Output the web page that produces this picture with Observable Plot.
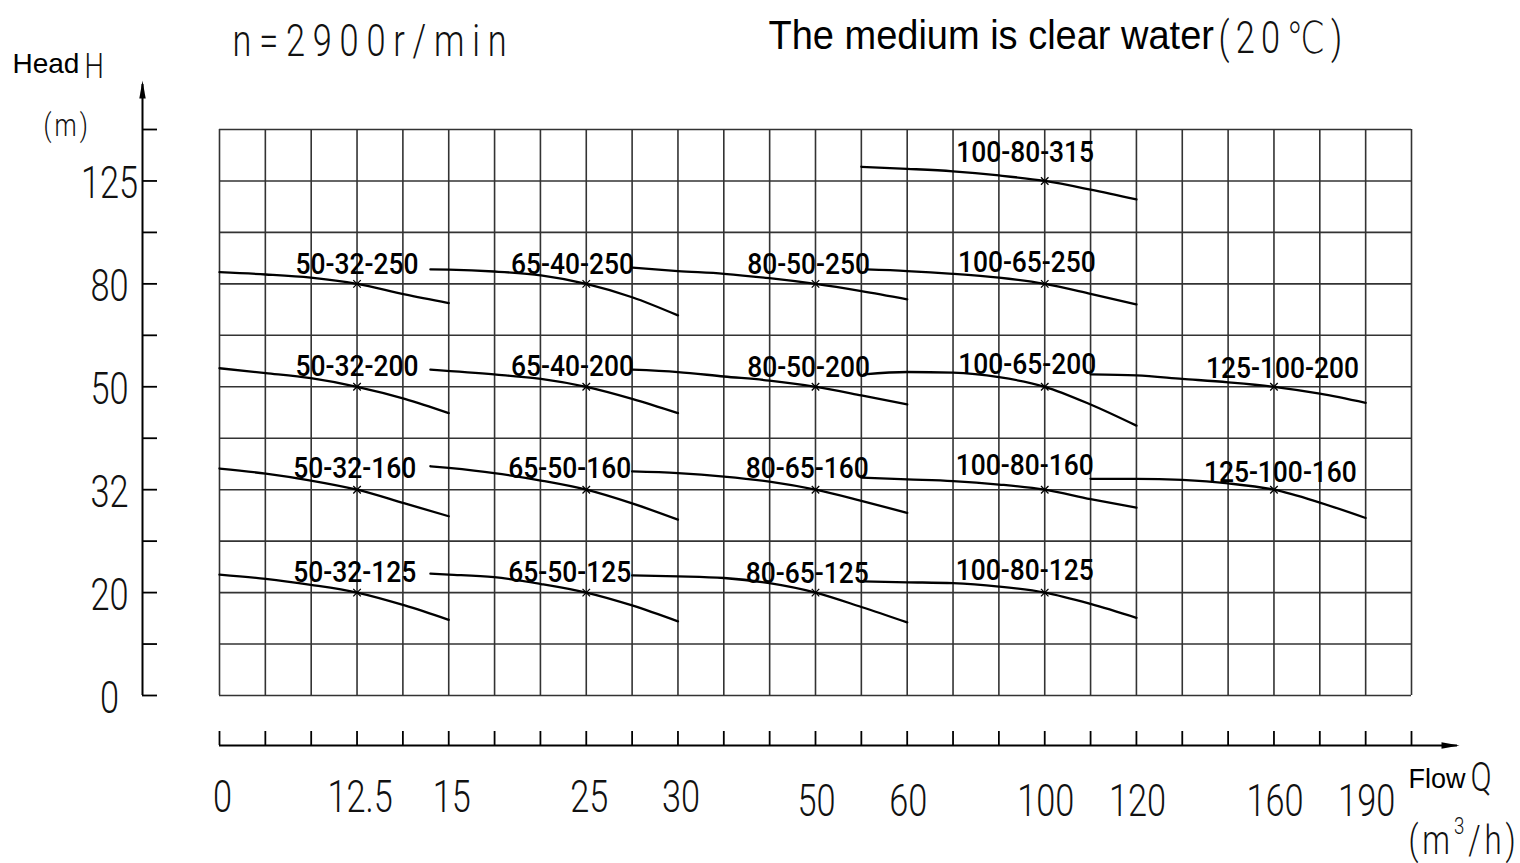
<!DOCTYPE html>
<html>
<head>
<meta charset="utf-8">
<script src="https://cdn.jsdelivr.net/npm/d3@7"></script>
<script src="https://cdn.jsdelivr.net/npm/@observablehq/plot@0.6"></script>
<style>
  html, body { margin: 0; padding: 0; background: #fff; }
  #chart { width: 1520px; height: 863px; }
</style>
</head>
<body>
<div id="chart"></div>
<script>
// ---- axis tick labels (non-uniform axes: each label sits on a grid division) ----
const flowTicks = [0, 12.5, 15, 25, 30, 50, 60, 100, 120, 160, 190];
const flowTickCols = [0, 3, 5, 8, 10, 13, 15, 18, 20, 23, 25];
const headTicks = [0, 20, 32, 50, 80, 125];
const headTickRows = [0, 2, 4, 6, 8, 10];

// ---- pump models ----
const models = [
  "50-32-250", "65-40-250", "80-50-250", "100-65-250", "100-80-315",
  "50-32-200", "65-40-200", "80-50-200", "100-65-200", "125-100-200",
  "50-32-160", "65-50-160", "80-65-160", "100-80-160", "125-100-160",
  "50-32-125", "65-50-125", "80-65-125", "100-80-125"
];

// rated duty point (flow m3/h, head m)
const ratedQ = [12.5, 25, 50, 100, 100, 12.5, 25, 50, 100, 160, 12.5, 25, 50, 100, 160, 12.5, 25, 50, 100];
const ratedH = [80, 80, 80, 80, 125, 50, 50, 50, 50, 50, 32, 32, 32, 32, 32, 20, 20, 20, 20];

// Q-H curves
const curveQ = [
  [0, 4.2, 8.3, 12.5, 13.8, 15],
  [14.5, 15, 18.3, 21.7, 25, 27.5, 30],
  [27.5, 30, 36.7, 43.3, 50, 55, 60],
  [55.5, 60, 73.3, 86.7, 100, 110, 120],
  [55, 60, 73.3, 86.7, 100, 110, 120],
  [0, 4.2, 8.3, 12.5, 13.8, 15],
  [14.5, 18.3, 21.7, 25, 27.5, 30],
  [27.5, 30, 36.7, 43.3, 50, 55, 60],
  [55.3, 60, 73.3, 86.7, 100, 110, 120],
  [110, 120, 133.3, 146.7, 160, 175, 190],
  [0, 4.2, 8.3, 12.5, 13.8, 15],
  [14.5, 15, 18.3, 21.7, 25, 27.5, 30],
  [27.5, 30, 36.7, 43.3, 50, 55, 60],
  [55, 60, 73.3, 86.7, 100, 110, 120],
  [110, 120, 133.3, 146.7, 160, 175, 190],
  [0, 4.2, 8.3, 12.5, 13.8, 15],
  [14.5, 15, 18.3, 21.7, 25, 27.5, 30],
  [27.5, 30, 36.7, 43.3, 50, 55, 60],
  [55, 60, 73.3, 86.7, 100, 110, 120]
];
const curveH = [
  [85.1, 84.1, 82.7, 80, 76.9, 74.4],
  [86.3, 86.2, 85.4, 83.7, 80, 76.1, 70.8],
  [87.1, 85.6, 84.4, 82.5, 80, 77.9, 75.5],
  [86.3, 85.6, 84.4, 82.7, 80, 77.1, 74.0],
  [131.2, 130.3, 129.2, 127.4, 125, 121.2, 116.9],
  [55.4, 54.0, 52.5, 50, 47.9, 45.4],
  [55.0, 53.6, 52.3, 50, 47.9, 45.4],
  [55.0, 54.3, 53.0, 51.8, 50, 48.5, 46.9],
  [53.6, 54.3, 54.1, 52.8, 50, 46.9, 43.2],
  [53.6, 53.3, 52.3, 51.3, 50, 48.8, 47.2],
  [35.7, 34.8, 33.6, 32, 30.4, 28.9],
  [36.1, 35.8, 34.9, 33.6, 32, 30.4, 28.5],
  [35.2, 34.9, 34.3, 33.4, 32, 30.7, 29.3],
  [34.1, 33.8, 33.5, 32.9, 32, 30.9, 29.9],
  [33.9, 33.9, 33.7, 33.1, 32, 30.5, 28.7],
  [22.1, 21.6, 20.9, 20, 17.5, 14.7],
  [22.2, 22.1, 21.8, 21.0, 20, 17.5, 14.4],
  [22.0, 21.9, 21.7, 21.1, 20, 17.2, 14.2],
  [21.3, 21.2, 21.1, 20.7, 20, 17.8, 15.1]
];

// where each model name is written (flow at label centre, head at label baseline)
const labelQ = [12.5, 24.0, 49.0, 94.8, 94.3, 12.5, 24.0, 49.0, 94.9, 162.8, 12.3, 23.8, 48.8, 94.2, 162.1, 12.3, 23.8, 48.8, 94.2];
const labelH = [84.4, 84.5, 84.4, 85.1, 133.2, 53.1, 53.1, 52.8, 53.6, 52.6, 34.1, 34.1, 34.1, 34.5, 33.4, 21.2, 21.2, 21.1, 21.5];

// ---- layout ----
const W = 1520, HT = 863;
const mL = 219, mR = 109, mT = 129, mB = 168;
const nCols = 26, nRows = 11;
const colW = (W - mL - mR) / nCols;
const rowH = (HT - mT - mB) / nRows;
const colToQ = d3.scaleLinear(flowTickCols, flowTicks);
const rowToH = d3.scaleLinear(headTickRows, headTicks);
const gridQ = d3.range(nCols + 1).map(colToQ);
const gridH = d3.range(nRows + 1).map(rowToH);

const curves = models.flatMap((m, i) => curveQ[i].map((q, j) => ({model: m, Q: q, H: curveH[i][j]})));
const rated = models.map((m, i) => ({model: m, Q: ratedQ[i], H: ratedH[i]}));
const labels = models.map((m, i) => ({model: m, Q: labelQ[i], H: labelH[i]}));

const arrowUp = {draw(c) { c.moveTo(0, 0); c.lineTo(3.2, 18); c.lineTo(-3.2, 18); c.closePath(); }};
const arrowRight = {draw(c) { c.moveTo(0, 0); c.lineTo(-18, -3.2); c.lineTo(-18, 3.2); c.closePath(); }};

const cad = {fontFamily: "Roboto, 'DejaVu Sans', sans-serif", fontWeight: 300, fill: "#111"};
const arial = {fontFamily: "'Liberation Sans', Arial, sans-serif", fontWeight: 400, fill: "#000"};

// annotation text placed relative to the frame (top-left corner), baseline at py
function note(text, px, py, opts) {
  return Plot.text([text], {
    text: d => d, frameAnchor: "top-left", dx: px - mL, dy: py - mT,
    lineAnchor: "bottom", textAnchor: "start", ...opts
  });
}

const svg = Plot.plot({
  width: W, height: HT,
  marginLeft: mL, marginRight: mR, marginTop: mT, marginBottom: mB,
  style: {background: "#fff", overflow: "visible"},
  x: {type: "linear", domain: flowTicks, range: flowTickCols.map(k => mL + k * colW), axis: null},
  y: {type: "linear", domain: headTicks, range: headTickRows.map(j => HT - mB - j * rowH), axis: null},
  marks: [
    // grid
    Plot.ruleX(gridQ, {stroke: "#333", strokeWidth: 1.6}),
    Plot.ruleY(gridH, {stroke: "#333", strokeWidth: 1.6}),
    // pump curves
    Plot.line(curves, {x: "Q", y: "H", z: "model", curve: "monotone-x", stroke: "#000", strokeWidth: 2.3}),
    Plot.dot(rated, {x: "Q", y: "H", symbol: "times", r: 3.5, stroke: "#000", strokeWidth: 1.3}),
    Plot.text(labels, {x: "Q", y: "H", text: "model", lineAnchor: "bottom", textAnchor: "middle",
      fontFamily: "Roboto, 'DejaVu Sans', sans-serif", fontWeight: 500, fontSize: 30, fill: "#000", ariaDescription: "model-label"}),

    // y axis (ruler with arrow)
    Plot.ruleX([0], {dx: 142 - mL, insetTop: -(mT - 84), stroke: "#000", strokeWidth: 2}),
    Plot.ruleY(gridH, {insetLeft: -(mL - 142), insetRight: (W - mR) - 157, stroke: "#000", strokeWidth: 1.8}),
    Plot.dot([0], {frameAnchor: "top-left", dx: 142 - mL, dy: 80 - mT, symbol: arrowUp, fill: "#000", stroke: "none"}),
    Plot.text(headTicks, {y: d => d, text: d => String(d), frameAnchor: "left", textAnchor: "middle", lineAnchor: "bottom",
      dx: 109 - mL, dy: 17, fontSize: 44, ...cad, ariaDescription: "tick-label"}),

    // x axis (ruler with arrow)
    Plot.ruleY([0], {dy: 745 - (HT - mB), insetRight: -(1457 - (W - mR)), stroke: "#000", strokeWidth: 2}),
    Plot.ruleX(gridQ, {insetTop: 731 - mT, insetBottom: -(745 - (HT - mB)), stroke: "#000", strokeWidth: 1.8}),
    Plot.dot([0], {frameAnchor: "bottom-right", dx: 1459 - (W - mR), dy: 745 - (HT - mB), symbol: arrowRight, fill: "#000", stroke: "none"}),
    Plot.text(flowTicks.filter(d => d <= 30), {x: d => d, text: d => String(d), frameAnchor: "bottom", textAnchor: "middle", lineAnchor: "bottom",
      dx: 3, dy: 811 - (HT - mB), fontSize: 44, ...cad, ariaDescription: "tick-label"}),
    Plot.text(flowTicks.filter(d => d > 30), {x: d => d, text: d => String(d), frameAnchor: "bottom", textAnchor: "middle", lineAnchor: "bottom",
      dx: 1, dy: 815 - (HT - mB), fontSize: 44, ...cad, ariaDescription: "tick-label"}),

    // titles
    note("n=2900r/min", 232, 55, {fontSize: 44, ...cad, ariaDescription: "title-n"}),
    note("The medium is clear water", 768, 48, {fontSize: 40, ...arial, ariaDescription: "title-medium"}),
    note("(20℃)", 1218, 52, {fontSize: 44, ...cad, ariaDescription: "title-temp"}),

    // axis names
    note("Head", 12, 72, {fontSize: 28, ...arial, ariaDescription: "axis-word"}),
    note("H", 84, 77, {fontSize: 35, ...cad, ariaDescription: "axis-sym"}),
    note("(m)", 43, 135, {fontSize: 32, ...cad, ariaDescription: "axis-unit-m"}),
    note("Flow", 1408, 787, {fontSize: 27, ...arial, ariaDescription: "axis-word"}),
    note("Q", 1470, 790, {fontSize: 40, ...cad, ariaDescription: "axis-sym"}),
    note("(m3/h)", 1408, 853, {fontSize: 40, ...cad, ariaDescription: "axis-unit-flow"})
  ]
});

document.getElementById("chart").append(svg);

// narrow drawing-style lettering: compress horizontally around each text's anchor
function squeeze(label, k, spacing) {
  svg.querySelectorAll(`g[aria-description="${label}"] text`).forEach(t => {
    if (spacing) t.setAttribute("letter-spacing", spacing);
    t.setAttribute("transform", (t.getAttribute("transform") || "") + ` scale(${k},1)`);
  });
}
squeeze("tick-label", 0.78);
squeeze("model-label", 0.88);
squeeze("title-n", 0.78, 10);
squeeze("title-temp", 0.78, 8);
squeeze("title-medium", 0.95);
squeeze("axis-sym", 0.78);
squeeze("axis-unit-m", 0.78, 4);
squeeze("axis-unit-flow", 0.78, 5);

// superscript 3 in (m3/h)
svg.querySelectorAll('g[aria-description="axis-unit-flow"] text').forEach(t => {
  t.textContent = "";
  const ns = "http://www.w3.org/2000/svg";
  const a = document.createElementNS(ns, "tspan"); a.textContent = "(m";
  const b = document.createElementNS(ns, "tspan"); b.textContent = "3";
  b.setAttribute("dy", "-20"); b.setAttribute("font-size", "24");
  const c = document.createElementNS(ns, "tspan"); c.textContent = "/h)";
  c.setAttribute("dy", "20");
  t.append(a, b, c);
});
</script>
</body>
</html>
